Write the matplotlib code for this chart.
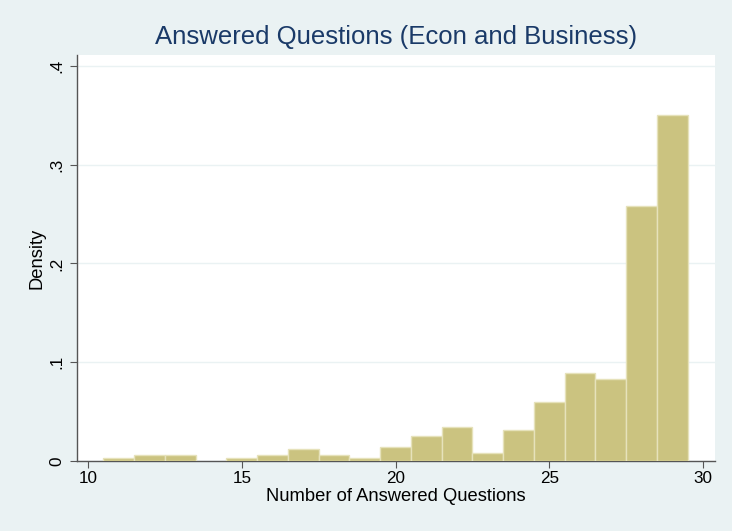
import matplotlib
matplotlib.use("Agg")
import matplotlib.pyplot as plt

plt.rcParams["font.family"] = ["Liberation Sans", "DejaVu Sans"]

bin_centers = [11, 12, 13, 15, 16, 17, 18, 19, 20, 21, 22, 23, 24, 25, 26, 27, 28, 29]
density = [0.0034, 0.0059, 0.0059, 0.0034, 0.0059, 0.0118, 0.0059, 0.0034, 0.0142,
           0.0253, 0.0341, 0.0084, 0.0314, 0.0600, 0.0888, 0.0827, 0.2580, 0.3500]
x_ticks = [10, 15, 20, 25, 30]
y_ticks = [0, 0.1, 0.2, 0.3, 0.4]
y_labels = ["0", ".1", ".2", ".3", ".4"]

bg = "#eaf2f3"
fig = plt.figure(figsize=(7.32, 5.31), dpi=100, facecolor=bg)
ax = fig.add_axes([77/732, 1-461/531, (715-77)/732, (461-55)/531])
ax.set_facecolor("white")

ax.bar(bin_centers, density, width=1.0, color="#cbc380", edgecolor="#e6e2bb",
       linewidth=1.0, zorder=3)

ax.set_xlim(9.642, 30.39)
ax.set_ylim(0, 0.411)
ax.set_xticks(x_ticks)
ax.set_yticks(y_ticks)
ax.set_yticklabels(y_labels, rotation=90, va="center")
ax.tick_params(axis="both", labelsize=12.3, length=5, color="#555555", labelcolor="black")
ax.tick_params(axis="y", pad=4)
ax.tick_params(axis="x", pad=2)
ax.grid(axis="y", color=bg, linewidth=1.0, zorder=0)
ax.set_axisbelow(True)
for s in ["top", "right"]:
    ax.spines[s].set_visible(False)
for s in ["left", "bottom"]:
    ax.spines[s].set_color("#555555")
    ax.spines[s].set_linewidth(1.0)

ax.set_xlabel("Number of Answered Questions", fontsize=13.2, labelpad=1.5)
ax.set_ylabel("Density", fontsize=13.2, labelpad=3)
fig.text(396/732, 1-37/531, "Answered Questions (Econ and Business)", fontsize=18.5,
         color="#1a3a68", ha="center", va="center")

fig.savefig("out.png", dpi=100, facecolor=bg)
